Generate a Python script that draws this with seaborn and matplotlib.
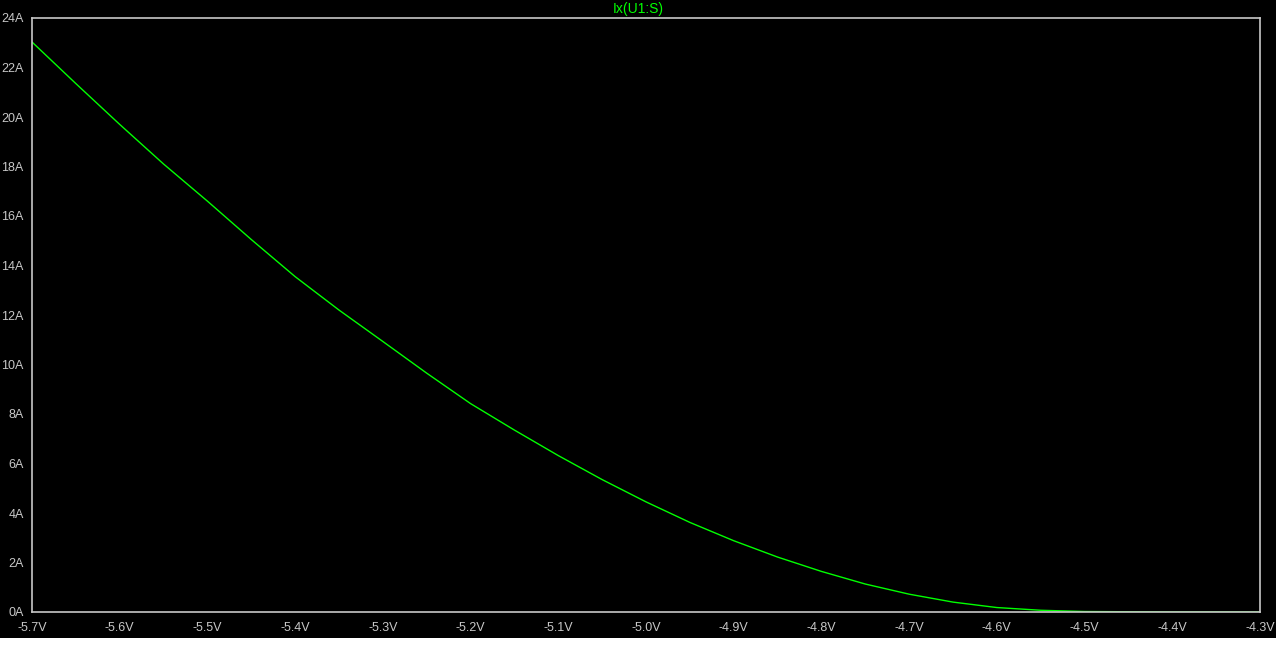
import seaborn as sns
import matplotlib.pyplot as plt
import matplotlib.patches as patches
import numpy as np
import pandas as pd

# Sweep voltage (V) and source current Ix(U1:S) (A)
volts = [-5.7, -5.65, -5.6, -5.55, -5.5, -5.45, -5.4, -5.35, -5.3, -5.25,
         -5.2, -5.15, -5.1, -5.05, -5.0, -4.95, -4.9, -4.85, -4.8, -4.75,
         -4.7, -4.65, -4.6, -4.55, -4.5, -4.4, -4.3]
amps = [23.03, 21.35, 19.7, 18.1, 16.6, 15.05, 13.55, 12.2, 10.93, 9.65,
        8.42, 7.35, 6.32, 5.35, 4.45, 3.62, 2.88, 2.22, 1.64, 1.13,
        0.72, 0.40, 0.18, 0.07, 0.02, 0.0, 0.0]

xticks = [-5.7, -5.6, -5.5, -5.4, -5.3, -5.2, -5.1, -5.0, -4.9, -4.8, -4.7, -4.6, -4.5, -4.4, -4.3]
yticks = list(range(0, 25, 2))

df = pd.DataFrame({"V": volts, "I": amps})

grey = "#c8c8c8"
sns.set_style("dark", {"axes.facecolor": "black", "figure.facecolor": "white",
                       "axes.edgecolor": grey, "xtick.color": grey, "ytick.color": grey,
                       "text.color": grey, "axes.labelcolor": grey})
plt.rcParams["font.family"] = ["Liberation Sans", "DejaVu Sans"]

fig = plt.figure(figsize=(12.76, 6.52), dpi=100)
# black window area, with a thin white strip at the bottom edge
fig.patches.append(patches.Rectangle((0, 14 / 652), 1, 1 - 14 / 652, transform=fig.transFigure,
                                     facecolor="black", edgecolor="none", zorder=-10))
ax = fig.add_axes([32 / 1276, 1 - 612 / 652, (1260 - 32) / 1276, (612 - 18) / 652])

sns.lineplot(data=df, x="V", y="I", ax=ax, color="#00ff00", linewidth=1.0)

ax.set_xlim(-5.7, -4.3)
ax.set_ylim(0, 24)
ax.set_xticks(xticks)
ax.set_xticklabels([f"{v:.1f}V" for v in xticks])
ax.set_yticks(yticks)
ax.set_yticklabels([f"{v}A" for v in yticks])
ax.set_xlabel("")
ax.set_ylabel("")
ax.grid(False)

for s in ax.spines.values():
    s.set_color(grey)
    s.set_linewidth(1.2)

ax.tick_params(axis="x", direction="out", length=5, width=1.2, colors=grey, labelsize=9, pad=2.5)
ax.tick_params(axis="y", direction="out", length=5, width=1.2, colors=grey, labelsize=9, pad=1)

fig.text(0.5, 1 - 8.5 / 652, "Ix(U1:S)", color="#00ff00", fontsize=10, ha="center", va="center")

fig.savefig("out.png", dpi=100)
